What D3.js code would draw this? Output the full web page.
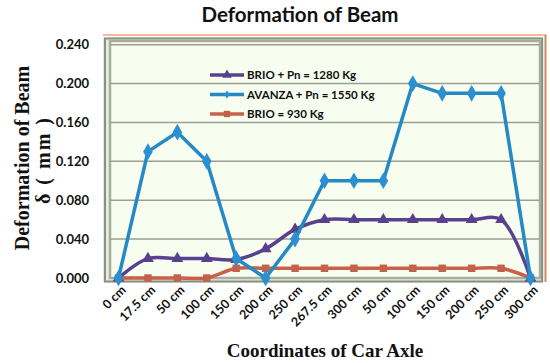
<!DOCTYPE html>
<html>
<head>
<meta charset="utf-8">
<script src="https://cdn.jsdelivr.net/npm/d3@7"></script>
<style>
  body { margin: 0; background: #fff; }
  svg { display: block; }
</style>
</head>
<body>
<svg id="area" width="550" height="363"></svg>
<script>
const categories = ['0 cm', '17.5 cm', '50 cm', '100 cm', '150 cm', '200 cm', '250 cm', '267.5 cm',
  '300 cm', '50 cm', '100 cm', '150 cm', '200 cm', '250 cm', '300 cm'];
const brioPn = [0, 0.02, 0.02, 0.02, 0.019, 0.03, 0.05, 0.06, 0.06, 0.06, 0.06, 0.06, 0.06, 0.06, 0];
const avanzaPn = [0, 0.13, 0.15, 0.12, 0.02, 0, 0.04, 0.1, 0.1, 0.1, 0.2, 0.19, 0.19, 0.19, 0];
const brio = [0, 0, 0, 0, 0.01, 0.01, 0.01, 0.01, 0.01, 0.01, 0.01, 0.01, 0.01, 0.01, 0];
const yTicks = [0, 0.04, 0.08, 0.12, 0.16, 0.2, 0.24];

const svg = d3.select('#area');
const plotLeft = 110, plotRight = 540, plotTop = 44.7, plotBottom = 278;

const x = d3.scalePoint().domain(d3.range(categories.length)).range([118.5, 530.5]);
const y = d3.scaleLinear().domain([0, 0.24]).range([plotBottom, plotTop]);

// frame / walls
svg.append('line').attr('x1', 103).attr('x2', 546).attr('y1', 35).attr('y2', 35)
  .attr('stroke', '#f4a07a').attr('stroke-width', 1.5);
svg.append('line').attr('x1', 545.5).attr('x2', 545.5).attr('y1', 35).attr('y2', 282)
  .attr('stroke', '#c98a5a').attr('stroke-width', 2);
svg.append('rect').attr('x', 103).attr('y', 37).attr('width', 441).attr('height', 246)
  .attr('fill', '#e9ece0');
svg.append('rect').attr('x', plotLeft).attr('y', 40).attr('width', plotRight - plotLeft).attr('height', plotBottom - 40)
  .attr('fill', '#f7fdef');
svg.append('rect').attr('x', 105).attr('y', 38.5).attr('width', 437).attr('height', 243)
  .attr('fill', 'none').attr('stroke', '#8b9182').attr('stroke-width', 2);
svg.append('rect').attr('x', plotLeft).attr('y', 41).attr('width', plotRight - plotLeft).attr('height', plotBottom - 41)
  .attr('fill', 'none').attr('stroke', '#a8ad9f').attr('stroke-width', 2.5);

// gridlines
svg.append('g').selectAll('line').data(yTicks.slice(1)).join('line')
  .attr('x1', plotLeft).attr('x2', plotRight)
  .attr('y1', (d) => y(d)).attr('y2', (d) => y(d))
  .attr('stroke', '#9a9e93').attr('stroke-width', 1.5);

// y axis
const yAxis = svg.append('g').attr('transform', 'translate(89,0)')
  .call(d3.axisLeft(y).tickValues(yTicks).tickFormat(d3.format('.3f')).tickSize(0).tickPadding(0));
yAxis.select('.domain').remove();
yAxis.selectAll('text').attr('font-family', 'Lato, sans-serif').attr('font-weight', 'bold')
  .attr('font-size', 13).attr('fill', '#111');

// x axis
const xAxis = svg.append('g').attr('transform', `translate(0,${plotBottom + 8})`)
  .call(d3.axisBottom(x).tickFormat((i) => categories[i]).tickSize(0).tickPadding(0));
xAxis.select('.domain').remove();
xAxis.selectAll('text')
  .attr('font-family', 'Lato, sans-serif').attr('font-weight', 'bold').attr('font-size', 12.5)
  .attr('fill', '#111').attr('text-anchor', 'end').attr('dy', '0.7em')
  .attr('transform', 'rotate(-45) translate(2,0)');

// series
const series = [
  { name: 'BRIO + Pn = 1280 Kg', values: brioPn, color: '#5a4190', marker: 'triangle', curve: d3.curveCatmullRom.alpha(0.5) },
  { name: 'AVANZA + Pn = 1550 Kg', values: avanzaPn, color: '#2489c4', marker: 'diamond', curve: d3.curveLinear },
  { name: 'BRIO  = 930 Kg', values: brio, color: '#c9604a', marker: 'square', curve: d3.curveCatmullRom.alpha(0.5) },
];
const symbols = { triangle: d3.symbolTriangle, diamond: d3.symbolDiamond, square: d3.symbolSquare };
const markerColor = { triangle: '#5a3f8c', diamond: '#2c8fd2', square: '#c0634a' };
const markerSize = { triangle: 60, diamond: 80, square: 55 };

const plotOrder = [series[2], series[0], series[1]];
plotOrder.forEach((s) => {
  const line = d3.line().x((d, i) => x(i)).y((d) => y(d)).curve(s.curve);
  svg.append('path').datum(s.values).attr('d', line)
    .attr('fill', 'none').attr('stroke', s.color).attr('stroke-width', 3.5)
    .attr('stroke-linejoin', 'round');
  svg.append('g').selectAll('path').data(s.values).join('path')
    .attr('transform', (d, i) => `translate(${x(i)},${y(d)})`)
    .attr('d', d3.symbol().type(symbols[s.marker]).size(markerSize[s.marker]))
    .attr('fill', markerColor[s.marker]);
});

// legend
const legend = svg.append('g').attr('transform', 'translate(210,75)');
series.forEach((s, i) => {
  const g = legend.append('g').attr('transform', `translate(0,${i * 19.5})`);
  g.append('line').attr('x1', 0).attr('x2', 34).attr('stroke', s.color).attr('stroke-width', 3.5);
  g.append('path').attr('transform', 'translate(17,0)')
    .attr('d', d3.symbol().type(symbols[s.marker]).size(s.marker === 'diamond' ? 22 : 40))
    .attr('fill', markerColor[s.marker]);
  g.append('text').attr('x', 37).attr('dy', '0.35em').text(s.name)
    .attr('font-family', 'Lato, sans-serif').attr('font-weight', 'bold').attr('font-size', 11.5)
    .attr('fill', '#111');
});

// titles
svg.append('text').attr('x', 300).attr('y', 22).attr('text-anchor', 'middle')
  .attr('font-family', 'Lato, sans-serif').attr('font-weight', 'bold').attr('font-size', 20.5)
  .attr('fill', '#111').text('Deformation of Beam');

svg.append('text').attr('transform', 'translate(29,158) rotate(-90)').attr('text-anchor', 'middle')
  .attr('font-family', '"Liberation Serif", serif').attr('font-weight', 'bold').attr('font-size', 20)
  .attr('fill', '#111').text('Deformation of Beam');
svg.append('text').attr('transform', 'translate(50,160) rotate(-90)').attr('text-anchor', 'middle')
  .attr('font-family', '"Liberation Serif", serif').attr('font-weight', 'bold').attr('font-size', 20)
  .attr('letter-spacing', 2).attr('fill', '#111').text('δ ( mm )');

svg.append('text').attr('x', 325).attr('y', 357).attr('text-anchor', 'middle')
  .attr('font-family', '"Liberation Serif", serif').attr('font-weight', 'bold').attr('font-size', 19)
  .attr('fill', '#111').text('Coordinates of Car Axle');
</script>
</body>
</html>
